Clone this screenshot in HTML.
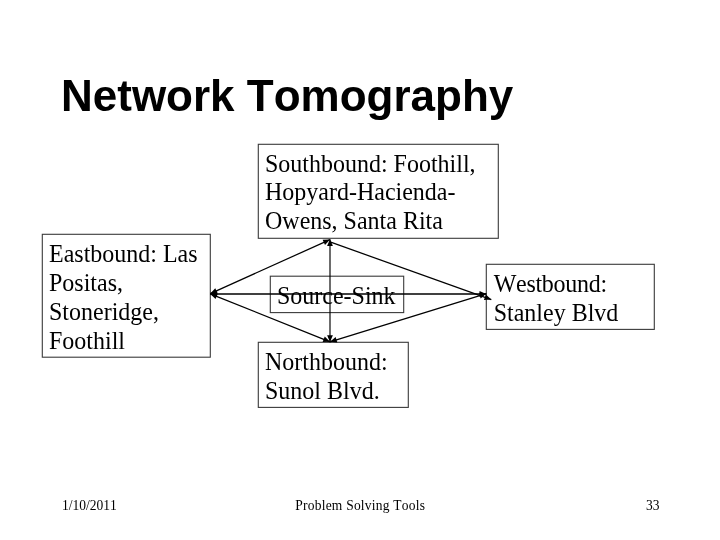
<!DOCTYPE html>
<html><head><meta charset="utf-8">
<style>
html,body{margin:0;padding:0;background:#fff;width:720px;height:540px;overflow:hidden}
svg{display:block;will-change:transform}
text{font-kerning:none}
.t{font-family:"Liberation Serif",serif;font-size:24px;fill:#000}
.f{font-family:"Liberation Serif",serif;font-size:13.5px;fill:#000}
.h{font-family:"Liberation Sans",sans-serif;font-weight:bold;font-size:44px;fill:#000}
</style></head><body>
<svg width="720" height="540" viewBox="0 0 720 540">
<text class="h" transform="translate(61,111) scale(1,1.02)">Network Tomography</text>
<rect x="258.3" y="144.3" width="240.00" height="94.00" fill="#fff" stroke="#3a3a3a" stroke-width="1.1"/>
<text class="t" transform="translate(265,172) scale(1,1.06)">Southbound: Foothill,</text>
<text class="t" transform="translate(265,200) scale(1,1.06)">Hopyard-Hacienda-</text>
<text class="t" transform="translate(265,229) scale(1,1.06)">Owens, Santa Rita</text>
<rect x="42.3" y="234.3" width="168.00" height="122.90" fill="#fff" stroke="#3a3a3a" stroke-width="1.1"/>
<text class="t" transform="translate(49,262) scale(1,1.06)">Eastbound: Las</text>
<text class="t" transform="translate(49,291) scale(1,1.06)">Positas,</text>
<text class="t" transform="translate(49,320) scale(1,1.06)">Stoneridge,</text>
<text class="t" transform="translate(49,349) scale(1,1.06)">Foothill</text>
<rect x="486.3" y="264.3" width="168.00" height="65.10" fill="#fff" stroke="#3a3a3a" stroke-width="1.1"/>
<text class="t" transform="translate(493.7,292) scale(1,1.06)" textLength="113.4" lengthAdjust="spacing">Westbound:</text>
<text class="t" transform="translate(493.7,321) scale(1,1.06)">Stanley Blvd</text>
<rect x="258.3" y="342.3" width="150.00" height="65.10" fill="#fff" stroke="#3a3a3a" stroke-width="1.1"/>
<text class="t" transform="translate(265,370) scale(1,1.06)">Northbound:</text>
<text class="t" transform="translate(265,399) scale(1,1.06)">Sunol Blvd.</text>
<rect x="270.3" y="276.2" width="133.40" height="36.40" fill="#fff" stroke="#3a3a3a" stroke-width="1.1"/>
<text class="t" transform="translate(277,304) scale(1,1.06)">Source-Sink</text>
<line x1="210.3" y1="293.6" x2="330.0" y2="239.6" stroke="#000" stroke-width="1.25"/>
<line x1="330.0" y1="241.9" x2="491.3" y2="299.6" stroke="#000" stroke-width="1.25"/>
<line x1="210.3" y1="293.9" x2="330.0" y2="341.8" stroke="#000" stroke-width="1.25"/>
<line x1="330.0" y1="341.8" x2="486.3" y2="293.6" stroke="#000" stroke-width="1.25"/>
<line x1="210.3" y1="294.0" x2="486.3" y2="294.0" stroke="#000" stroke-width="1.35"/>
<line x1="330.0" y1="239.3" x2="330.0" y2="342.0" stroke="#000" stroke-width="1.15"/>
<path d="M210.30,293.60 L215.31,288.16 L217.69,293.45 Z" fill="#000"/>
<path d="M330.00,239.60 L324.99,245.04 L322.61,239.75 Z" fill="#000"/>
<path d="M491.30,299.60 L483.92,300.04 L485.87,294.58 Z" fill="#000"/>
<path d="M210.30,293.90 L217.69,293.73 L215.54,299.12 Z" fill="#000"/>
<path d="M330.00,341.80 L322.61,341.97 L324.76,336.58 Z" fill="#000"/>
<path d="M330.00,341.80 L335.64,337.02 L337.35,342.57 Z" fill="#000"/>
<path d="M486.30,293.60 L480.66,298.38 L478.95,292.83 Z" fill="#000"/>
<path d="M210.30,294.00 L217.10,291.10 L217.10,296.90 Z" fill="#000"/>
<path d="M486.30,294.00 L479.50,296.90 L479.50,291.10 Z" fill="#000"/>
<path d="M330.00,239.30 L332.90,246.10 L327.10,246.10 Z" fill="#000"/>
<path d="M330.00,342.00 L327.10,335.20 L332.90,335.20 Z" fill="#000"/>
<text class="f" transform="translate(62,510) scale(1,1.08)" >1/10/2011</text>
<text class="f" transform="translate(295.3,510) scale(1,1.08)" letter-spacing="0.22">Problem Solving Tools</text>
<text class="f" transform="translate(646,510) scale(1,1.08)">33</text>
</svg>
</body></html>
